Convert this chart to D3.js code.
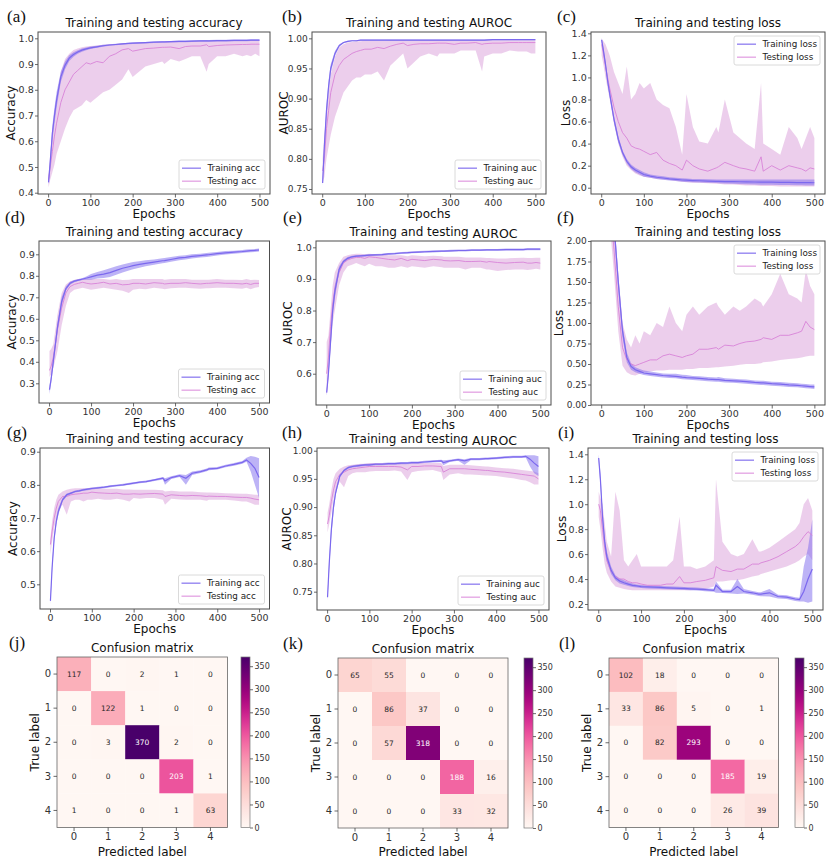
<!DOCTYPE html>
<html><head><meta charset="utf-8">
<script src="https://cdn.jsdelivr.net/npm/d3@7"></script>
<style>body{margin:0;background:#fff}svg{display:block}</style>
</head><body>
<svg id="fig" width="830" height="863"></svg>
<script>
// ---------- DATA ----------
const EPOCHS=[1,5,10,15,20,30,40,50,60,70,80,90,100,115,130,145,160,175,190,200,215,230,250,270,275,290,310,325,340,360,375,380,400,420,440,460,470,480,490,500];
const X_TICKS=[0,100,200,300,400,500];

// (a) accuracy
const aTrM=[0.44,0.52,0.63,0.70,0.76,0.85,0.895,0.923,0.937,0.947,0.954,0.959,0.963,0.967,0.971,0.974,0.976,0.978,0.980,0.981,0.982,0.983,0.985,0.986,0.986,0.987,0.988,0.988,0.989,0.990,0.990,0.990,0.991,0.991,0.992,0.992,0.992,0.993,0.993,0.993];
const aTrLo=[0.43,0.50,0.60,0.67,0.73,0.83,0.88,0.912,0.928,0.94,0.948,0.954,0.958,0.963,0.967,0.971,0.973,0.975,0.977,0.978,0.979,0.980,0.982,0.983,0.983,0.984,0.985,0.985,0.986,0.987,0.987,0.987,0.988,0.988,0.989,0.989,0.989,0.990,0.990,0.990];
const aTrHi=[0.45,0.54,0.66,0.73,0.79,0.87,0.91,0.934,0.946,0.954,0.96,0.964,0.968,0.971,0.975,0.977,0.979,0.981,0.983,0.984,0.985,0.986,0.988,0.989,0.989,0.990,0.991,0.991,0.992,0.993,0.993,0.993,0.994,0.994,0.995,0.995,0.995,0.996,0.996,0.996];
const aTeM=[0.45,0.50,0.56,0.62,0.67,0.75,0.80,0.83,0.86,0.875,0.89,0.905,0.90,0.91,0.905,0.93,0.94,0.955,0.96,0.95,0.955,0.96,0.962,0.965,0.965,0.966,0.96,0.968,0.97,0.97,0.975,0.968,0.972,0.974,0.975,0.976,0.976,0.977,0.977,0.977];
const aTeLo=[0.42,0.45,0.48,0.51,0.55,0.60,0.65,0.69,0.72,0.73,0.74,0.76,0.75,0.77,0.79,0.80,0.82,0.84,0.88,0.85,0.87,0.89,0.90,0.91,0.90,0.92,0.91,0.92,0.93,0.93,0.87,0.90,0.93,0.93,0.94,0.93,0.935,0.93,0.94,0.93];
const aTeHi=[0.47,0.55,0.63,0.71,0.77,0.87,0.92,0.94,0.955,0.96,0.965,0.968,0.97,0.972,0.975,0.977,0.978,0.98,0.982,0.983,0.984,0.985,0.986,0.987,0.987,0.988,0.988,0.989,0.99,0.99,0.992,0.99,0.99,0.991,0.992,0.992,0.992,0.993,0.993,0.993];

// (b) AUROC
const bTrM=[0.76,0.82,0.88,0.92,0.95,0.975,0.988,0.993,0.995,0.996,0.996,0.997,0.997,0.997,0.997,0.997,0.997,0.997,0.997,0.997,0.997,0.997,0.997,0.997,0.997,0.997,0.997,0.997,0.997,0.997,0.997,0.997,0.998,0.998,0.998,0.998,0.998,0.998,0.998,0.998];
const bTrLo=[0.755,0.81,0.87,0.91,0.943,0.971,0.986,0.992,0.994,0.995,0.995,0.996,0.996,0.996,0.996,0.996,0.996,0.996,0.996,0.996,0.996,0.996,0.996,0.996,0.996,0.996,0.996,0.996,0.996,0.996,0.996,0.996,0.997,0.997,0.997,0.997,0.997,0.997,0.997,0.997];
const bTrHi=[0.765,0.83,0.89,0.93,0.957,0.979,0.99,0.994,0.996,0.997,0.997,0.998,0.998,0.998,0.998,0.998,0.998,0.998,0.998,0.998,0.998,0.998,0.998,0.998,0.998,0.998,0.998,0.998,0.998,0.998,0.998,0.998,0.999,0.999,0.999,0.999,0.999,0.999,0.999,0.999];
const bTeM=[0.78,0.80,0.85,0.88,0.91,0.94,0.955,0.965,0.97,0.975,0.978,0.98,0.982,0.982,0.985,0.983,0.987,0.99,0.992,0.988,0.99,0.991,0.991,0.992,0.992,0.992,0.99,0.992,0.992,0.993,0.99,0.991,0.992,0.992,0.993,0.993,0.993,0.993,0.993,0.993];
const bTeLo=[0.76,0.77,0.80,0.82,0.84,0.87,0.89,0.91,0.92,0.93,0.935,0.935,0.94,0.94,0.945,0.93,0.955,0.965,0.975,0.95,0.96,0.97,0.975,0.97,0.975,0.975,0.975,0.98,0.98,0.98,0.945,0.97,0.975,0.975,0.98,0.978,0.978,0.978,0.975,0.975];
const bTeHi=[0.80,0.84,0.88,0.91,0.94,0.97,0.985,0.99,0.993,0.994,0.995,0.995,0.996,0.996,0.996,0.996,0.997,0.997,0.997,0.997,0.997,0.997,0.997,0.997,0.997,0.997,0.997,0.997,0.997,0.997,0.997,0.997,0.997,0.997,0.997,0.997,0.997,0.997,0.997,0.997];

// (c) loss
const cTrM=[1.34,1.25,1.12,0.97,0.85,0.62,0.44,0.32,0.24,0.19,0.16,0.14,0.12,0.105,0.095,0.088,0.08,0.075,0.07,0.068,0.065,0.063,0.06,0.058,0.058,0.056,0.055,0.054,0.053,0.052,0.05,0.05,0.05,0.049,0.048,0.047,0.047,0.046,0.046,0.045];
const cTrLo=[1.32,1.23,1.09,0.94,0.82,0.59,0.41,0.30,0.22,0.17,0.14,0.12,0.10,0.09,0.08,0.072,0.065,0.06,0.055,0.052,0.05,0.048,0.045,0.042,0.04,0.038,0.036,0.034,0.032,0.03,0.028,0.027,0.026,0.025,0.024,0.023,0.022,0.021,0.02,0.02];
const cTrHi=[1.36,1.27,1.15,1.0,0.88,0.65,0.47,0.34,0.26,0.21,0.18,0.16,0.14,0.12,0.11,0.104,0.095,0.09,0.085,0.084,0.08,0.078,0.076,0.075,0.075,0.074,0.074,0.074,0.074,0.074,0.075,0.074,0.074,0.074,0.074,0.074,0.075,0.075,0.075,0.075];
const cTeM=[1.30,1.22,1.10,1.0,0.90,0.73,0.60,0.50,0.45,0.38,0.36,0.35,0.33,0.30,0.32,0.25,0.22,0.20,0.16,0.25,0.20,0.17,0.15,0.18,0.19,0.23,0.20,0.18,0.17,0.15,0.28,0.15,0.20,0.16,0.20,0.18,0.17,0.15,0.18,0.17];
const cTeLo=[1.20,1.12,1.0,0.90,0.80,0.58,0.40,0.28,0.20,0.16,0.13,0.11,0.10,0.09,0.08,0.075,0.07,0.06,0.055,0.05,0.045,0.045,0.04,0.035,0.035,0.03,0.03,0.025,0.02,0.02,0.015,0.015,0.015,0.012,0.01,0.01,0.01,0.01,0.01,0.01];
const cTeHi=[1.35,1.33,1.30,1.25,1.20,1.05,0.95,0.85,1.10,0.80,0.85,0.95,0.90,0.95,0.80,0.75,0.72,0.55,0.30,0.85,0.55,0.42,0.40,0.55,0.50,0.80,0.50,0.45,0.40,0.35,0.95,0.40,0.35,0.30,0.55,0.45,0.35,0.45,0.55,0.45];

// (d) accuracy
const dTrM=[0.27,0.32,0.40,0.48,0.56,0.68,0.74,0.765,0.775,0.78,0.785,0.79,0.795,0.803,0.808,0.815,0.825,0.835,0.842,0.847,0.853,0.858,0.864,0.87,0.871,0.876,0.883,0.886,0.89,0.894,0.897,0.898,0.903,0.907,0.91,0.913,0.915,0.917,0.918,0.92];
const dTrLo=[0.25,0.30,0.38,0.46,0.54,0.66,0.73,0.758,0.77,0.776,0.78,0.782,0.782,0.788,0.79,0.795,0.805,0.815,0.825,0.83,0.838,0.845,0.852,0.858,0.86,0.865,0.872,0.876,0.88,0.885,0.888,0.889,0.895,0.899,0.903,0.906,0.908,0.91,0.911,0.913];
const dTrHi=[0.29,0.34,0.42,0.50,0.58,0.70,0.75,0.772,0.78,0.785,0.79,0.798,0.808,0.818,0.826,0.835,0.845,0.853,0.86,0.864,0.868,0.872,0.876,0.882,0.883,0.887,0.893,0.896,0.9,0.903,0.906,0.907,0.911,0.915,0.917,0.92,0.922,0.924,0.925,0.927];
const dTeM=[0.36,0.38,0.42,0.48,0.55,0.65,0.72,0.75,0.76,0.765,0.77,0.765,0.762,0.765,0.77,0.762,0.765,0.758,0.76,0.765,0.765,0.762,0.768,0.765,0.762,0.765,0.765,0.768,0.765,0.762,0.765,0.765,0.768,0.765,0.765,0.762,0.765,0.76,0.765,0.765];
const dTeLo=[0.33,0.34,0.37,0.41,0.45,0.57,0.66,0.72,0.735,0.74,0.745,0.74,0.735,0.74,0.745,0.74,0.735,0.73,0.72,0.735,0.74,0.738,0.745,0.74,0.738,0.742,0.745,0.745,0.742,0.74,0.742,0.742,0.745,0.745,0.742,0.74,0.745,0.738,0.745,0.748];
const dTeHi=[0.45,0.46,0.48,0.55,0.62,0.72,0.76,0.775,0.78,0.785,0.785,0.785,0.785,0.785,0.785,0.782,0.785,0.78,0.782,0.785,0.785,0.785,0.785,0.785,0.782,0.785,0.785,0.785,0.782,0.782,0.782,0.782,0.785,0.782,0.782,0.78,0.785,0.78,0.782,0.78];

// (e) AUROC
const eTrM=[0.54,0.60,0.70,0.80,0.86,0.93,0.955,0.965,0.97,0.972,0.973,0.974,0.975,0.976,0.977,0.979,0.98,0.982,0.983,0.984,0.985,0.986,0.987,0.988,0.988,0.989,0.99,0.99,0.991,0.991,0.992,0.992,0.992,0.993,0.993,0.993,0.994,0.994,0.994,0.994];
const eTrLo=[0.53,0.59,0.68,0.78,0.84,0.92,0.95,0.961,0.967,0.969,0.97,0.971,0.972,0.973,0.974,0.976,0.977,0.979,0.98,0.981,0.982,0.983,0.984,0.985,0.985,0.986,0.987,0.987,0.988,0.988,0.989,0.989,0.989,0.99,0.99,0.99,0.991,0.991,0.991,0.991];
const eTrHi=[0.55,0.61,0.72,0.82,0.88,0.94,0.96,0.969,0.973,0.975,0.976,0.977,0.978,0.979,0.98,0.982,0.983,0.985,0.986,0.987,0.988,0.989,0.99,0.991,0.991,0.992,0.993,0.993,0.994,0.994,0.995,0.995,0.995,0.996,0.996,0.996,0.997,0.997,0.997,0.997];
const eTeM=[0.60,0.65,0.75,0.82,0.87,0.92,0.95,0.96,0.965,0.968,0.968,0.965,0.97,0.968,0.965,0.962,0.96,0.965,0.958,0.962,0.96,0.958,0.962,0.96,0.958,0.957,0.958,0.955,0.955,0.956,0.953,0.955,0.952,0.95,0.952,0.953,0.95,0.95,0.952,0.95];
const eTeLo=[0.53,0.58,0.68,0.76,0.80,0.88,0.92,0.94,0.945,0.95,0.945,0.94,0.948,0.94,0.94,0.935,0.935,0.94,0.935,0.94,0.938,0.935,0.94,0.937,0.935,0.935,0.935,0.93,0.935,0.935,0.93,0.93,0.925,0.928,0.93,0.93,0.928,0.93,0.932,0.93];
const eTeHi=[0.70,0.72,0.80,0.88,0.92,0.95,0.97,0.975,0.978,0.98,0.98,0.978,0.98,0.978,0.977,0.975,0.975,0.975,0.972,0.975,0.973,0.972,0.973,0.972,0.97,0.97,0.97,0.968,0.968,0.968,0.966,0.966,0.965,0.965,0.966,0.967,0.966,0.966,0.967,0.967];

// (f) loss
const fTrM=[3.6,3.3,3.0,2.8,2.6,2.2,1.5,0.9,0.58,0.47,0.43,0.41,0.39,0.38,0.37,0.36,0.355,0.35,0.34,0.335,0.33,0.325,0.315,0.31,0.31,0.3,0.295,0.29,0.285,0.275,0.27,0.27,0.26,0.255,0.245,0.24,0.235,0.23,0.225,0.22];
const fTrLo=[3.5,3.2,2.9,2.7,2.5,2.1,1.4,0.82,0.52,0.43,0.4,0.38,0.365,0.355,0.345,0.335,0.33,0.325,0.315,0.31,0.305,0.3,0.29,0.285,0.285,0.275,0.27,0.265,0.26,0.25,0.245,0.245,0.235,0.23,0.22,0.215,0.21,0.205,0.2,0.195];
const fTrHi=[3.7,3.4,3.1,2.9,2.7,2.3,1.6,0.98,0.64,0.51,0.46,0.44,0.42,0.41,0.395,0.385,0.38,0.38,0.37,0.365,0.355,0.35,0.34,0.335,0.34,0.325,0.32,0.315,0.31,0.3,0.295,0.295,0.285,0.28,0.27,0.265,0.26,0.255,0.25,0.25];
const fTeM=[3.5,3.2,2.9,2.7,2.5,1.9,1.2,0.7,0.55,0.5,0.48,0.5,0.52,0.55,0.55,0.6,0.62,0.6,0.58,0.6,0.62,0.68,0.68,0.7,0.68,0.73,0.72,0.75,0.77,0.78,0.8,0.82,0.8,0.85,0.85,0.88,0.9,1.02,0.95,0.92];
const fTeLo=[3.0,2.8,2.6,2.4,2.2,1.6,0.9,0.48,0.4,0.37,0.36,0.38,0.4,0.41,0.42,0.42,0.43,0.43,0.43,0.44,0.44,0.45,0.45,0.46,0.46,0.47,0.48,0.49,0.5,0.5,0.51,0.52,0.53,0.55,0.56,0.57,0.58,0.59,0.6,0.6];
const fTeHi=[4.0,3.7,3.4,3.2,3.0,2.3,1.6,1.0,0.8,0.7,0.85,0.75,0.9,0.85,1.0,0.95,1.2,1.0,0.9,1.1,1.2,1.1,1.2,1.25,1.2,1.1,1.2,1.15,1.2,1.3,1.25,1.2,1.35,1.6,1.35,1.3,1.25,1.65,1.45,1.35];

// (g) accuracy
const gTrM=[0.45,0.55,0.64,0.69,0.72,0.755,0.77,0.775,0.78,0.782,0.785,0.787,0.789,0.791,0.793,0.796,0.798,0.80,0.803,0.805,0.808,0.81,0.815,0.82,0.812,0.822,0.828,0.82,0.835,0.84,0.845,0.848,0.85,0.857,0.862,0.868,0.875,0.865,0.85,0.822];
const gTrLo=[0.44,0.54,0.63,0.68,0.71,0.75,0.766,0.772,0.777,0.779,0.782,0.784,0.786,0.788,0.79,0.793,0.795,0.797,0.8,0.802,0.805,0.807,0.812,0.816,0.80,0.818,0.824,0.80,0.83,0.836,0.841,0.844,0.846,0.853,0.858,0.864,0.87,0.84,0.80,0.76];
const gTrHi=[0.46,0.56,0.65,0.70,0.73,0.76,0.774,0.778,0.783,0.785,0.788,0.79,0.792,0.794,0.796,0.799,0.801,0.803,0.806,0.808,0.811,0.813,0.818,0.824,0.82,0.826,0.832,0.83,0.84,0.844,0.849,0.852,0.854,0.861,0.866,0.872,0.882,0.887,0.885,0.88];
const gTeM=[0.62,0.66,0.70,0.73,0.75,0.765,0.765,0.77,0.772,0.773,0.775,0.775,0.778,0.776,0.775,0.774,0.775,0.772,0.772,0.773,0.772,0.773,0.774,0.772,0.765,0.77,0.768,0.767,0.768,0.767,0.765,0.766,0.765,0.765,0.763,0.762,0.762,0.76,0.757,0.755];
const gTeLo=[0.59,0.63,0.67,0.70,0.72,0.74,0.71,0.75,0.755,0.755,0.75,0.755,0.755,0.758,0.755,0.755,0.758,0.755,0.75,0.76,0.758,0.76,0.76,0.755,0.74,0.758,0.756,0.755,0.755,0.755,0.752,0.755,0.755,0.755,0.753,0.75,0.75,0.745,0.74,0.74];
const gTeHi=[0.64,0.69,0.73,0.755,0.77,0.78,0.785,0.788,0.79,0.79,0.79,0.79,0.792,0.79,0.788,0.788,0.788,0.786,0.786,0.785,0.785,0.785,0.785,0.784,0.78,0.782,0.78,0.78,0.78,0.778,0.777,0.777,0.776,0.775,0.774,0.773,0.773,0.772,0.77,0.77];

// (h) AUROC
const hTrM=[0.74,0.80,0.86,0.90,0.925,0.955,0.965,0.97,0.972,0.973,0.974,0.975,0.975,0.976,0.976,0.977,0.977,0.978,0.978,0.979,0.979,0.98,0.981,0.982,0.979,0.982,0.984,0.982,0.985,0.985,0.986,0.986,0.987,0.988,0.989,0.989,0.99,0.985,0.978,0.972];
const hTrLo=[0.735,0.79,0.85,0.89,0.92,0.952,0.963,0.968,0.97,0.971,0.972,0.973,0.973,0.974,0.974,0.975,0.975,0.976,0.976,0.977,0.977,0.978,0.979,0.98,0.974,0.98,0.982,0.975,0.983,0.983,0.984,0.984,0.985,0.986,0.987,0.987,0.988,0.972,0.96,0.955];
const hTrHi=[0.745,0.81,0.87,0.91,0.93,0.958,0.967,0.972,0.974,0.975,0.976,0.977,0.977,0.978,0.978,0.979,0.979,0.98,0.98,0.981,0.981,0.982,0.983,0.984,0.983,0.984,0.986,0.985,0.987,0.987,0.988,0.988,0.989,0.99,0.991,0.991,0.992,0.992,0.992,0.99];
const hTeM=[0.87,0.885,0.91,0.93,0.945,0.958,0.962,0.966,0.968,0.969,0.97,0.971,0.972,0.972,0.972,0.972,0.972,0.971,0.966,0.972,0.972,0.973,0.973,0.972,0.962,0.968,0.968,0.968,0.967,0.966,0.965,0.965,0.963,0.962,0.96,0.958,0.957,0.956,0.955,0.95];
const hTeLo=[0.855,0.87,0.89,0.915,0.93,0.945,0.935,0.955,0.96,0.962,0.962,0.962,0.963,0.964,0.964,0.964,0.965,0.963,0.948,0.962,0.964,0.965,0.966,0.962,0.948,0.958,0.96,0.958,0.958,0.957,0.956,0.956,0.955,0.953,0.951,0.948,0.947,0.944,0.94,0.94];
const hTeHi=[0.89,0.905,0.93,0.95,0.96,0.968,0.972,0.974,0.975,0.976,0.977,0.977,0.978,0.978,0.978,0.978,0.978,0.978,0.976,0.978,0.978,0.978,0.978,0.978,0.973,0.975,0.975,0.975,0.974,0.973,0.972,0.972,0.97,0.969,0.968,0.966,0.965,0.964,0.963,0.96];

// (i) loss
const iTrM=[1.37,1.2,0.9,0.7,0.58,0.47,0.41,0.385,0.37,0.36,0.35,0.345,0.34,0.337,0.335,0.333,0.33,0.328,0.326,0.325,0.322,0.32,0.315,0.31,0.35,0.30,0.30,0.34,0.30,0.29,0.28,0.28,0.29,0.26,0.255,0.24,0.235,0.30,0.40,0.48];
const iTrLo=[1.34,1.15,0.85,0.66,0.54,0.44,0.39,0.365,0.355,0.345,0.337,0.333,0.328,0.325,0.323,0.321,0.318,0.316,0.314,0.313,0.31,0.308,0.303,0.298,0.29,0.288,0.285,0.28,0.285,0.275,0.265,0.262,0.26,0.245,0.24,0.225,0.22,0.22,0.21,0.22];
const iTrHi=[1.40,1.25,0.95,0.74,0.62,0.50,0.43,0.405,0.39,0.375,0.365,0.357,0.352,0.349,0.347,0.345,0.342,0.34,0.338,0.337,0.334,0.332,0.327,0.322,0.38,0.315,0.315,0.40,0.32,0.305,0.295,0.295,0.32,0.275,0.27,0.255,0.25,0.50,0.65,0.88];
const iTeM=[1.0,0.95,0.8,0.65,0.55,0.46,0.42,0.40,0.40,0.38,0.37,0.37,0.36,0.35,0.35,0.35,0.36,0.36,0.42,0.37,0.37,0.38,0.39,0.41,0.50,0.47,0.46,0.48,0.48,0.52,0.52,0.53,0.55,0.58,0.62,0.66,0.69,0.74,0.78,0.75];
const iTeLo=[0.9,0.8,0.65,0.52,0.45,0.38,0.34,0.33,0.32,0.315,0.31,0.31,0.31,0.31,0.31,0.31,0.31,0.31,0.31,0.31,0.31,0.315,0.32,0.34,0.38,0.38,0.39,0.39,0.40,0.42,0.43,0.44,0.46,0.48,0.5,0.53,0.55,0.58,0.6,0.55];
const iTeHi=[1.1,1.05,1.0,0.85,0.7,0.58,1.1,0.95,0.55,0.5,0.55,0.6,0.5,0.5,0.5,0.5,0.5,0.55,0.9,0.5,0.5,0.48,0.5,0.55,1.2,0.7,0.6,0.58,0.6,0.72,0.62,0.62,0.65,0.7,0.75,0.8,0.85,1.0,1.05,0.95];

// confusion matrices
const CM_LABELS=[0,1,2,3,4];
const cmJ=[[117,0,2,1,0],[0,122,1,0,0],[0,3,370,2,0],[0,0,0,203,1],[1,0,0,1,63]];
const cmK=[[65,55,0,0,0],[0,86,37,0,0],[0,57,318,0,0],[0,0,0,188,16],[0,0,0,33,32]];
const cmL=[[102,18,0,0,0],[33,86,5,0,1],[0,82,293,0,0],[0,0,0,185,19],[0,0,0,26,39]];
const CBAR_TICKS=[0,50,100,150,200,250,300,350];
const CBAR_MAX=370;

// ---------- DRAWING ----------
const svg=d3.select('#fig');
const SANS='DejaVu Sans, sans-serif';
const TR_COLOR='#7b68ee', TE_COLOR='#d77fd7';
let clipN=0;

const panels=[
 {lab:'(a)',lx:7,ly:22,title:'Training and testing accuracy',ylab:'Accuracy',ylx:11,box:[38,270,32,194],yd:[0.395,1.0245],yt:d3.range(0.4,1.01,0.1),fmt:'.1f',tr:[aTrM,aTrLo,aTrHi],te:[aTeM,aTeLo,aTeHi],leg:['Training acc','Testing acc'],lpos:'lr'},
 {lab:'(b)',lx:282,ly:22,title:'Training and testing AUROC',ylab:'AUROC',ylx:283.5,box:[312,546,32,194],yd:[0.7417,1.0105],yt:d3.range(0.75,1.001,0.05),fmt:'.2f',tr:[bTrM,bTrLo,bTrHi],te:[bTeM,bTeLo,bTeHi],leg:['Training auc','Testing auc'],lpos:'lr'},
 {lab:'(c)',lx:557,ly:22,title:'Training and testing loss',ylab:'Loss',ylx:565.5,box:[591,825,32,194],yd:[-0.057,1.412],yt:d3.range(0,1.41,0.2),fmt:'.1f',tr:[cTrM,cTrLo,cTrHi],te:[cTeM,cTeLo,cTeHi],leg:['Training loss','Testing loss'],lpos:'ur'},
 {lab:'(d)',lx:5,ly:223,title:'Training and testing accuracy',ylab:'Accuracy',ylx:11.3,box:[39,269.5,241,403],yd:[0.2084,0.9619],yt:d3.range(0.3,0.91,0.1),fmt:'.1f',tr:[dTrM,dTrLo,dTrHi],te:[dTeM,dTeLo,dTeHi],leg:['Training acc','Testing acc'],lpos:'lr'},
 {lab:'(e)',lx:283,ly:223,title:'Training and testing AUROC',split:true,ylab:'AUROC',ylx:287.5,box:[316,551,241,405],yd:[0.501,1.020],yt:d3.range(0.6,1.01,0.1),fmt:'.1f',tr:[eTrM,eTrLo,eTrHi],te:[eTeM,eTeLo,eTeHi],leg:['Training auc','Testing auc'],lpos:'lr'},
 {lab:'(f)',lx:557,ly:223,title:'Training and testing loss',ylab:'Loss',ylx:558.5,box:[591,825,241,405],yd:[0,2],yt:d3.range(0,2.01,0.25),fmt:'.2f',tr:[fTrM,fTrLo,fTrHi],te:[fTeM,fTeLo,fTeHi],leg:['Training loss','Testing loss'],lpos:'ur'},
 {lab:'(g)',lx:7,ly:438,title:'Training and testing accuracy',ylab:'Accuracy',ylx:12.8,box:[40,269.5,448,609],yd:[0.4255,0.9112],yt:d3.range(0.5,0.91,0.1),fmt:'.1f',tr:[gTrM,gTrLo,gTrHi],te:[gTeM,gTeLo,gTeHi],leg:['Training acc','Testing acc'],lpos:'lr'},
 {lab:'(h)',lx:282,ly:438,title:'Training and testing AUROC',split:true,ylab:'AUROC',ylx:286.7,box:[317,549,448,610],yd:[0.7175,1.0048],yt:d3.range(0.75,1.001,0.05),fmt:'.2f',tr:[hTrM,hTrLo,hTrHi],te:[hTeM,hTeLo,hTeHi],leg:['Training auc','Testing auc'],lpos:'lr'},
 {lab:'(i)',lx:558,ly:438,title:'Training and testing loss',ylab:'Loss',ylx:562,box:[588,823,448,610],yd:[0.152,1.4505],yt:d3.range(0.2,1.41,0.2),fmt:'.1f',tr:[iTrM,iTrLo,iTrHi],te:[iTeM,iTeLo,iTeHi],leg:['Training loss','Testing loss'],lpos:'ur'}
];

function styleAxis(g,fs){
  g.select('.domain').remove();
  g.selectAll('.tick line').attr('stroke','#444').attr('stroke-width',0.8);
  g.selectAll('.tick text').attr('fill','#333').style('font-family',SANS).style('font-size',fs+'px');
}

function linePanel(p){
  const [l,r,t,b]=p.box;
  const g=svg.append('g');
  const x=d3.scaleLinear().domain([-23.95,524.95]).range([l,r]);
  const y=d3.scaleLinear().domain(p.yd).range([b,t]);
  const cid='clip'+(clipN++);
  g.append('clipPath').attr('id',cid).append('rect').attr('x',l).attr('y',t).attr('width',r-l).attr('height',b-t);
  const pg=g.append('g').attr('clip-path',`url(#${cid})`);
  const idx=d3.range(EPOCHS.length);
  const area=(lo,hi)=>d3.area().x(i=>x(EPOCHS[i])).y0(i=>y(lo[i])).y1(i=>y(hi[i]))(idx);
  const line=(m)=>d3.line().x(i=>x(EPOCHS[i])).y(i=>y(m[i]))(idx);
  pg.append('path').attr('d',area(p.te[1],p.te[2])).attr('fill','rgb(205,125,205)').attr('fill-opacity',0.38);
  pg.append('path').attr('d',area(p.tr[1],p.tr[2])).attr('fill',TR_COLOR).attr('fill-opacity',0.5);
  pg.append('path').attr('d',line(p.te[0])).attr('fill','none').attr('stroke',TE_COLOR).attr('stroke-width',1).attr('stroke-opacity',0.85);
  pg.append('path').attr('d',line(p.tr[0])).attr('fill','none').attr('stroke',TR_COLOR).attr('stroke-width',1.2);

  const xa=g.append('g').attr('transform',`translate(0,${b})`)
    .call(d3.axisBottom(x).tickValues(X_TICKS).tickSize(3.5).tickPadding(2).tickFormat(d3.format('d')));
  styleAxis(xa,9.5);
  const ya=g.append('g').attr('transform',`translate(${l},0)`)
    .call(d3.axisLeft(y).tickValues(p.yt).tickSize(3).tickPadding(1.3).tickFormat(d3.format(p.fmt)));
  styleAxis(ya,p.fmt==='.2f'?9:9.5);
  g.append('rect').attr('x',l).attr('y',t).attr('width',r-l).attr('height',b-t).attr('fill','none').attr('stroke','#4d4d4d').attr('stroke-width',1);

  // title
  const tt=g.append('text').attr('x',(l+r)/2).attr('y',t-4.8).attr('text-anchor','middle')
    .style('font-family',SANS).style('font-size','12px').attr('fill','#111');
  if(p.split){
    tt.append('tspan').text('Training and testing ');
    tt.append('tspan').attr('dy',1.5).style('font-size','12.5px').text('AUROC');
  } else tt.text(p.title);
  // axis labels
  g.append('text').attr('x',(l+r)/2).attr('y',b+23.5).attr('text-anchor','middle')
    .style('font-family',SANS).style('font-size','12px').attr('fill','#111').text('Epochs');
  g.append('text').attr('transform',`translate(${p.ylx},${(t+b)/2}) rotate(-90)`).attr('dy','0.35em').attr('text-anchor','middle')
    .style('font-family',SANS).style('font-size','12px').attr('fill','#111').text(p.ylab);
  // panel letter
  svg.append('text').attr('x',p.lx).attr('y',p.ly).style('font-family','Liberation Serif, serif').style('font-size','17px').attr('fill','#111').text(p.lab);

  // legend
  const lw=86, lh=29;
  const lx0=r-5-lw, ly0=p.lpos==='lr'?b-5-lh:t+4;
  const lg=g.append('g').attr('transform',`translate(${lx0},${ly0})`);
  lg.append('rect').attr('width',lw).attr('height',lh).attr('rx',2).attr('fill','#fff').attr('fill-opacity',0.85).attr('stroke','#d0d0d0').attr('stroke-width',0.8);
  [[TR_COLOR,1,p.leg[0],8.2],[TE_COLOR,0.85,p.leg[1],21.2]].forEach(([c,o,txt,yy])=>{
    lg.append('line').attr('x1',3).attr('x2',22).attr('y1',yy).attr('y2',yy).attr('stroke',c).attr('stroke-opacity',o*0.8).attr('stroke-width',1.4);
    lg.append('text').attr('x',28.5).attr('y',yy).attr('dy','0.35em').style('font-family',SANS).style('font-size','8.8px').attr('fill','#222').text(txt);
  });
}
panels.forEach(linePanel);

// confusion matrices
const cms=[
 {lab:'(j)',lx:9,m:cmJ,l:57,t:657,size:170.5,cb:241},
 {lab:'(k)',lx:283,m:cmK,l:338,t:658,size:170,cb:524},
 {lab:'(l)',lx:559,m:cmL,l:609,t:658,size:169.5,cb:795}
];
const color=v=>d3.interpolateRdPu(v/CBAR_MAX);

const grad=svg.append('defs').append('linearGradient').attr('id','rdpu').attr('x1',0).attr('x2',0).attr('y1',1).attr('y2',0);
d3.range(0,1.0001,0.05).forEach(s=>grad.append('stop').attr('offset',s).attr('stop-color',d3.interpolateRdPu(s)));

cms.forEach(c=>{
  const g=svg.append('g');
  const x=d3.scaleBand().domain(CM_LABELS).range([c.l,c.l+c.size]);
  const y=d3.scaleBand().domain(CM_LABELS).range([c.t,c.t+c.size]);
  const maxv=d3.max(c.m.flat());
  c.m.forEach((row,i)=>row.forEach((v,j)=>{
    g.append('rect').attr('x',x(j)).attr('y',y(i)).attr('width',x.bandwidth()+0.3).attr('height',y.bandwidth()+0.3).attr('fill',color(v));
    g.append('text').attr('x',x(j)+x.bandwidth()/2).attr('y',y(i)+y.bandwidth()/2).attr('dy','0.35em').attr('text-anchor','middle')
      .style('font-family',SANS).style('font-size','7.5px').attr('fill',v>maxv/2?'#fff':'#262626').text(v);
  }));
  g.append('rect').attr('x',c.l).attr('y',c.t).attr('width',c.size).attr('height',c.size).attr('fill','none').attr('stroke','#666').attr('stroke-width',0.8);
  const xa=g.append('g').attr('transform',`translate(0,${c.t+c.size})`).call(d3.axisBottom(x).tickSize(3.5).tickPadding(2));
  styleAxis(xa,10);
  const ya=g.append('g').attr('transform',`translate(${c.l},0)`).call(d3.axisLeft(y).tickSize(3.5).tickPadding(2.5));
  styleAxis(ya,10);
  g.append('text').attr('x',c.l+c.size/2).attr('y',c.t-5.5).attr('text-anchor','middle').style('font-family',SANS).style('font-size','12px').attr('fill','#111').text('Confusion matrix');
  g.append('text').attr('x',c.l+c.size/2).attr('y',c.t+c.size+28).attr('text-anchor','middle').style('font-family',SANS).style('font-size','12px').attr('fill','#111').text('Predicted label');
  g.append('text').attr('transform',`translate(${c.l-22.5},${c.t+c.size/2}) rotate(-90)`).attr('dy','0.35em').attr('text-anchor','middle').style('font-family',SANS).style('font-size','12px').attr('fill','#111').text('True label');
  svg.append('text').attr('x',c.lx).attr('y',c.t-9).style('font-family','Liberation Serif, serif').style('font-size','17px').attr('fill','#111').text(c.lab);
  const cy=d3.scaleLinear().domain([0,CBAR_MAX]).range([c.t+c.size,c.t]);
  g.append('rect').attr('x',c.cb).attr('y',c.t).attr('width',9).attr('height',c.size).attr('fill','url(#rdpu)').attr('stroke','#777').attr('stroke-width',0.7);
  const ca=g.append('g').attr('transform',`translate(${c.cb+9},0)`).call(d3.axisRight(cy).tickValues(CBAR_TICKS).tickSize(3).tickPadding(1.5));
  styleAxis(ca,8);
});
</script>
</body></html>
